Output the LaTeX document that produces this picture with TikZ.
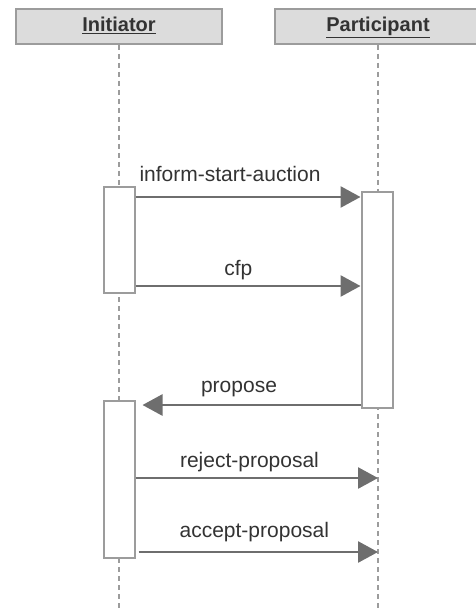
\documentclass[tikz,border=0pt]{standalone}
\usepackage{fontspec}
\setmainfont{Liberation Sans}
\usetikzlibrary{arrows.meta}
\definecolor{hdrfill}{HTML}{DCDCDC}
\definecolor{boxline}{HTML}{9C9C9C}
\definecolor{msgline}{HTML}{6E6E6E}
\definecolor{txt}{HTML}{333333}

\begin{document}
\begin{tikzpicture}[x=1pt,y=-1pt,
    header/.style={draw=boxline,fill=hdrfill,line width=2pt,minimum width=206pt,minimum height=35pt,inner sep=0pt,text height=15pt,text depth=4pt,font=\fontsize{20}{24}\selectfont\bfseries,text=txt},
    act/.style={draw=boxline,fill=white,line width=2pt,minimum width=31pt,inner sep=0pt},
    life/.style={draw=boxline,line width=2pt,dash pattern=on 5pt off 4pt},
    msg/.style={draw=msgline,line width=2.7pt,-{Triangle[length=20pt,width=21pt]}},
    lbl/.style={font=\fontsize{21}{25}\selectfont,text=txt,anchor=base,inner sep=0pt}]
    \useasboundingbox (0,0) rectangle (475,612);
    \node[header] (ini) at (119,26.5) {\underline{Initiator}};
    \node[header] (par) at (378,26.5) {\underline{Participant}};
    \coordinate (bottom) at (0,612);
    \draw[life] (ini.south) -- (ini.south |- bottom);
    \draw[life] (par.south) -- (par.south |- bottom);
    \node[act,minimum height=106pt] (act1) at (119,240) {};
    \node[act,minimum height=216pt] (act2) at (377,300) {};
    \node[act,minimum height=157pt] (act3) at (119,479.5) {};
    \coordinate (y1) at (0,197);
    \coordinate (y2) at (0,286);
    \coordinate (y3) at (0,405);
    \coordinate (y4) at (0,478);
    \coordinate (y5) at (0,552);
    \draw[msg] (act1.east |- y1) -- (act2.west |- y1) node[lbl,pos=0.42,yshift=15pt] (inform) {inform-start-auction};
    \draw[msg] (act1.east |- y2) -- (act2.west |- y2) node[lbl,pos=0.457,yshift=11pt] (cfp) {cfp};
    \draw[msg,shorten >=7pt] (act2.west |- y3) -- (act3.east |- y3) node[lbl,pos=0.54,yshift=13pt] (propose) {propose};
    \draw[msg] (act3.east |- y4) -- (par.south |- y4) node[lbl,pos=0.47,yshift=11pt] (reject) {reject-proposal};
    \draw[msg,shorten <=3pt] (act3.east |- y5) -- (par.south |- y5) node[lbl,pos=0.49,yshift=15pt] (accept) {accept-proposal};
\end{tikzpicture}
\end{document}
